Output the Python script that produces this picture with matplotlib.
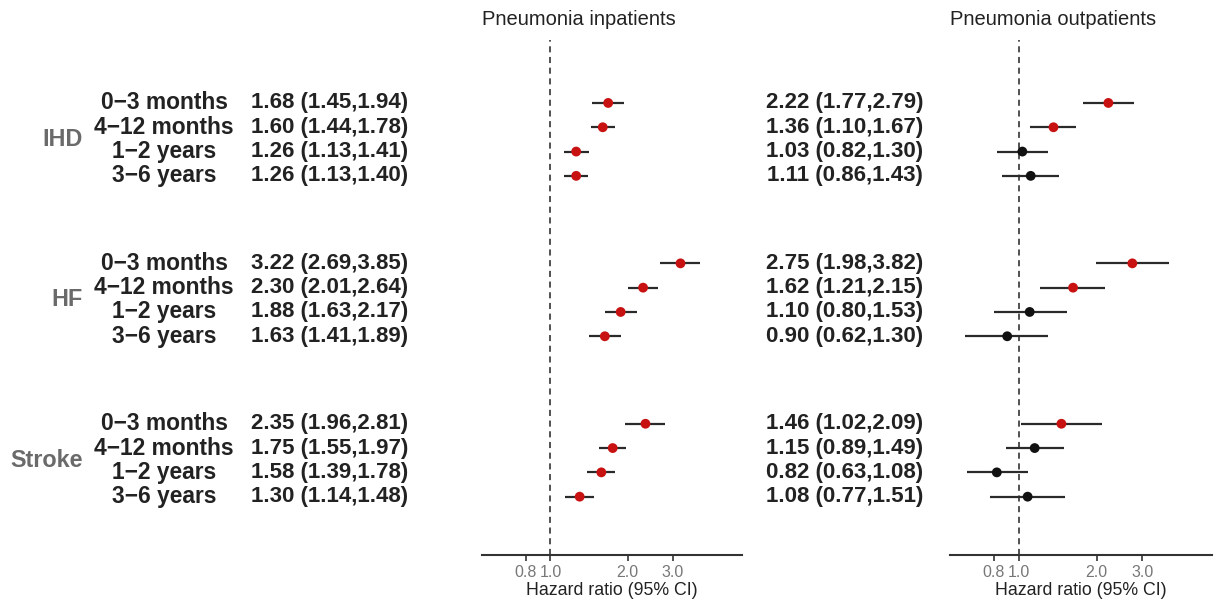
import numpy as np
import matplotlib.pyplot as plt
from matplotlib.transforms import blended_transform_factory

plt.rcParams['font.family'] = ['Liberation Sans', 'DejaVu Sans']

groups = ['IHD', 'HF', 'Stroke']
periods = ['0\u22123 months', '4\u221212 months', '1\u22122 years', '3\u22126 years']

# pneumonia inpatients: HR, lower, upper (IHD, HF, Stroke x 4 periods)
in_hr = [1.68, 1.60, 1.26, 1.26, 3.22, 2.30, 1.88, 1.63, 2.35, 1.75, 1.58, 1.30]
in_lo = [1.45, 1.44, 1.13, 1.13, 2.69, 2.01, 1.63, 1.41, 1.96, 1.55, 1.39, 1.14]
in_hi = [1.94, 1.78, 1.41, 1.40, 3.85, 2.64, 2.17, 1.89, 2.81, 1.97, 1.78, 1.48]

# pneumonia outpatients
out_hr = [2.22, 1.36, 1.03, 1.11, 2.75, 1.62, 1.10, 0.90, 1.46, 1.15, 0.82, 1.08]
out_lo = [1.77, 1.10, 0.82, 0.86, 1.98, 1.21, 0.80, 0.62, 1.02, 0.89, 0.63, 0.77]
out_hi = [2.79, 1.67, 1.30, 1.43, 3.82, 2.15, 1.53, 1.30, 2.09, 1.49, 1.08, 1.51]

ticks = [0.8, 1.0, 2.0, 3.0]

W, H = 1222, 600
fig = plt.figure(figsize=(W / 100, H / 100), dpi=100)

gap = 6.6
ypos = np.array([g * gap + i for g in range(3) for i in range(4)])

red = '#c81212'
dark = '#111111'


def forest(ax, hr, lo, hi, title):
    hr, lo, hi = np.array(hr), np.array(lo), np.array(hi)
    ax.axvline(1.0, color='#222222', lw=1.1, ls=(0, (4, 3)), zorder=1)
    ax.hlines(ypos, lo, hi, color='#2a2a2a', lw=1.6, zorder=2)
    cols = [red if l > 1 else dark for l in lo]
    ax.scatter(hr, ypos, s=50, c=cols, zorder=3, edgecolors='none')
    ax.set_xscale('log')
    ax.set_xlim(0.54, 5.6)
    ax.set_ylim(18.6, -2.59)
    ax.set_xticks(ticks)
    ax.set_xticklabels(['%.1f' % t for t in ticks])
    ax.minorticks_off()
    ax.set_yticks([])
    for s in ['top', 'right', 'left']:
        ax.spines[s].set_visible(False)
    ax.spines['bottom'].set_color('#333333')
    ax.spines['bottom'].set_linewidth(1.5)
    ax.tick_params(axis='x', colors='#333333', labelcolor='#777777',
                   labelsize=11.5, length=4, width=1.2)
    ax.set_xlabel('Hazard ratio (95% CI)', fontsize=12.8, color='#222222', labelpad=1)
    ax.set_title(title, loc='left', fontsize=14.5, color='#222222', pad=11)


ax1 = fig.add_axes([482 / W, 45 / H, 260 / W, 515 / H])
ax2 = fig.add_axes([950 / W, 45 / H, 262 / W, 515 / H])
forest(ax1, in_hr, in_lo, in_hi, 'Pneumonia inpatients')
forest(ax2, out_hr, out_lo, out_hi, 'Pneumonia outpatients')

tr = blended_transform_factory(fig.transFigure, ax1.transData)
for k, y in enumerate(ypos):
    txt_kw = dict(transform=tr, va='center', ha='center', fontsize=16,
                  fontweight='bold', color='#222222')
    fig.text(164 / W, y, periods[k % 4], **dict(txt_kw, fontsize=16.4))
    fig.text(330 / W, y, '%.2f (%.2f,%.2f)' % (in_hr[k], in_lo[k], in_hi[k]), **txt_kw)
    fig.text(845 / W, y, '%.2f (%.2f,%.2f)' % (out_hr[k], out_lo[k], out_hi[k]), **txt_kw)

for g, name in enumerate(groups):
    fig.text(83 / W, g * gap + 1.5, name, transform=tr, va='center', ha='right',
             fontsize=16.8, fontweight='bold', color='#6a6a6a')

fig.savefig('out.png', dpi=100, facecolor='white')
